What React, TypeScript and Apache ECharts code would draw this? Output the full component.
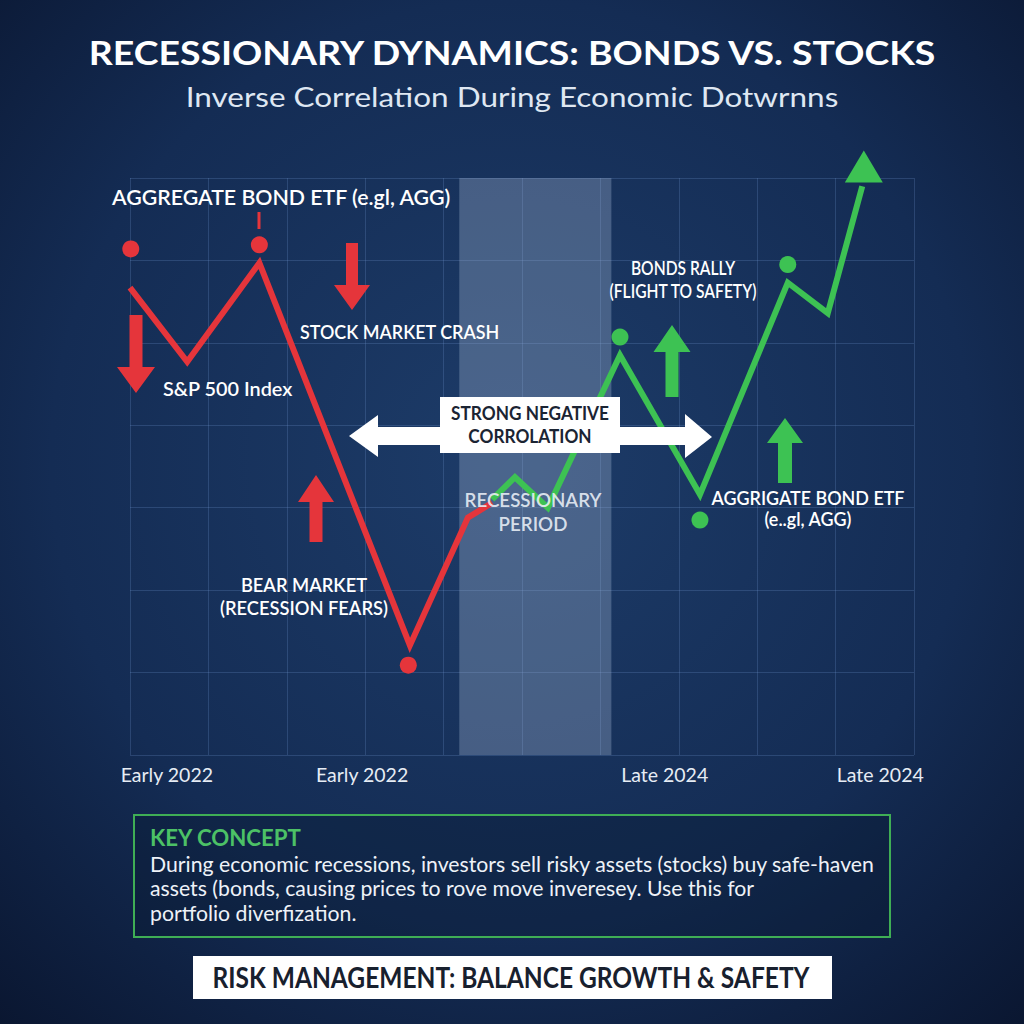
import React, { useEffect, useRef } from 'react';
import * as echarts from 'echarts';

// ---- data (x: timeline units 0..10, y: relative price level 0..7) ----
const xTickLabels = ['Early 2022', 'Early 2022', 'Late 2024', 'Late 2024'];
const xTickPositions = [0.47, 2.96, 6.82, 9.57];
const sp500Line = [[0, 5.67], [0.73, 4.77], [1.65, 5.97], [3.57, 1.33], [4.31, 2.88], [4.62, 3.06]];
const bondLine = [[4.62, 3.1], [4.91, 3.37], [5.33, 3.0], [6.25, 4.85], [7.27, 3.16], [8.39, 5.73], [8.9, 5.36], [9.34, 6.9]];
const sp500Markers = [[0.01, 6.14], [1.65, 6.19], [3.55, 1.09]];
const bondMarkers = [[6.25, 5.07], [7.27, 2.85], [8.39, 5.95]];
const bondArrowHead = [[9.36, 7.14]];
const recessionBand = [4.2, 6.14];

const RED = '#e5353b';
const GREEN = '#3dc253';
const FONT = 'Lato';

const measureCtx = typeof document !== 'undefined' ? document.createElement('canvas').getContext('2d') : null;
function fitScale(text: string, size: number, weight: string, target: number) {
  if (!measureCtx) return 1;
  measureCtx.font = `${weight} ${size}px ${FONT}`;
  const w = Math.max(...text.split('\n').map((l) => measureCtx.measureText(l).width));
  return w > 0 ? target / w : 1;
}

function txt(text: string, x: number, y: number, size: number, color: string, weight: string, align: string, targetW: number, lineHeight?: number, z = 20) {
  return {
    type: 'text',
    x,
    y,
    scaleX: fitScale(text, size, weight, targetW),
    z,
    silent: true,
    style: {
      text,
      fill: color,
      fontSize: size,
      fontFamily: FONT,
      fontWeight: weight,
      align,
      textAlign: align,
      verticalAlign: 'middle',
      textVerticalAlign: 'middle',
      lineHeight: lineHeight || size * 1.2,
    },
  };
}

function arrow(cx: number, tip: number, headBase: number, tail: number, shaftHalf: number, headHalf: number, color: string) {
  return {
    type: 'polygon',
    z: 15,
    silent: true,
    shape: {
      points: [
        [cx, tip],
        [cx + headHalf, headBase],
        [cx + shaftHalf, headBase],
        [cx + shaftHalf, tail],
        [cx - shaftHalf, tail],
        [cx - shaftHalf, headBase],
        [cx - headHalf, headBase],
      ],
    },
    style: { fill: color },
  };
}

export default function App() {
  const ref = useRef<HTMLDivElement>(null);
  useEffect(() => {
    document.body.style.margin = '0';
    const chart = echarts.init(ref.current!, null, { renderer: 'svg', width: 1024, height: 1024 });
    const gridLine = { color: 'rgba(115,155,215,0.24)', width: 1 };
    const option: any = {
      animation: false,
      backgroundColor: '#0c1a34',
      grid: { left: 130, right: 110, top: 178, bottom: 269 },
      xAxis: {
        type: 'value',
        min: 0,
        max: 10,
        interval: 1,
        axisLine: { show: false },
        axisTick: { show: false },
        splitLine: { show: true, lineStyle: gridLine },
        axisLabel: {
          customValues: xTickPositions,
          formatter: (v: number) => {
            const i = xTickPositions.findIndex((p) => Math.abs(p - v) < 1e-6);
            return i >= 0 ? xTickLabels[i] : '';
          },
          color: '#e6ecf4',
          fontSize: 19.5,
          fontFamily: FONT,
          margin: 9,
        },
      },
      yAxis: {
        type: 'value',
        min: 0,
        max: 7,
        interval: 1,
        axisLine: { show: false },
        axisTick: { show: false },
        axisLabel: { show: false },
        splitLine: { show: true, lineStyle: gridLine },
      },
      series: [
        {
          name: 'S&P 500 Index',
          type: 'line',
          data: sp500Line,
          symbol: 'none',
          lineStyle: { color: RED, width: 6, join: 'miter' },
          z: 3,
          markArea: {
            silent: true,
            itemStyle: { color: 'rgba(170,190,218,0.32)' },
            data: [[{ xAxis: recessionBand[0], yAxis: 0 }, { xAxis: recessionBand[1], yAxis: 7 }]],
          },
        },
        {
          name: 'Aggregate Bond ETF',
          type: 'line',
          data: bondLine,
          symbol: 'none',
          lineStyle: { color: GREEN, width: 6, join: 'miter' },
          z: 3,
        },
        {
          type: 'scatter',
          data: sp500Markers,
          symbolSize: 17,
          itemStyle: { color: RED, opacity: 1 },
          z: 4,
        },
        {
          type: 'scatter',
          data: bondMarkers,
          symbolSize: 17,
          itemStyle: { color: GREEN, opacity: 1 },
          z: 4,
        },
        {
          type: 'scatter',
          data: bondArrowHead,
          symbol: 'triangle',
          symbolSize: [38, 32],
          clip: false,
          itemStyle: { color: GREEN, opacity: 1 },
          z: 4,
        },
      ],
      graphic: [
        {
          type: 'rect',
          z: -10,
          silent: true,
          shape: { x: 0, y: 0, width: 1024, height: 1024 },
          style: {
            fill: {
              type: 'radial',
              x: 0.5,
              y: 0.45,
              r: 0.75,
              colorStops: [
                { offset: 0, color: '#1d3c69' },
                { offset: 0.6, color: '#142c54' },
                { offset: 1, color: '#0a1630' },
              ],
            },
          },
        },
        // title & subtitle
        txt('RECESSIONARY DYNAMICS: BONDS VS. STOCKS', 512, 52, 33, '#ffffff', 'bold', 'center', 850),
        txt('Inverse Correlation During Economic Dotwrnns', 512, 96, 27, '#dfe7f2', 'normal', 'center', 653),
        // annotations
        txt('AGGREGATE BOND ETF (e.gl, AGG)', 112, 197, 21, '#ffffff', '600', 'left', 340),
        { type: 'line', z: 15, silent: true, shape: { x1: 259, y1: 212, x2: 259, y2: 229 }, style: { stroke: RED, lineWidth: 3 } },
        txt('STOCK MARKET CRASH', 300, 331, 20, '#ffffff', '600', 'left', 200),
        txt('S&P 500 Index', 163, 388, 20, '#ffffff', '600', 'left', 130),
        txt('BEAR MARKET\n(RECESSION FEARS)', 304, 596, 19.5, '#ffffff', '600', 'center', 168, 23),
        txt('RECESSIONARY\nPERIOD', 533, 511, 20, 'rgba(235,240,247,0.9)', '600', 'center', 137, 24),
        txt('BONDS RALLY\n(FLIGHT TO SAFETY)', 683, 279, 19.5, '#ffffff', '600', 'center', 148, 23),
        txt('AGGRIGATE BOND ETF\n(e..gl, AGG)', 808, 508, 19.5, '#ffffff', '600', 'center', 193, 21),
        // arrows
        arrow(136, 393, 367, 315, 6.5, 19, RED),
        arrow(352, 310, 285, 243, 6, 18, RED),
        arrow(316, 475, 502, 542, 6.5, 18, RED),
        arrow(672, 325, 352, 397, 6.5, 18.5, GREEN),
        arrow(785, 418, 443, 483, 7, 18, GREEN),
        // double arrow + box
        {
          type: 'polygon',
          z: 18,
          silent: true,
          shape: {
            points: [
              [349, 436], [378, 415], [378, 427], [685, 427], [685, 414], [712, 437],
              [685, 458], [685, 445], [378, 445], [378, 457],
            ],
          },
          style: { fill: '#ffffff' },
        },
        { type: 'rect', z: 19, silent: true, shape: { x: 440, y: 397, width: 180, height: 56 }, style: { fill: '#ffffff' } },
        txt('STRONG NEGATIVE\nCORROLATION', 530, 424, 19.5, '#1b2433', 'bold', 'center', 158, 23, 21),
        // key concept box
        { type: 'rect', z: 5, silent: true, shape: { x: 134, y: 815, width: 756, height: 122 }, style: { fill: 'rgba(10,25,50,0.35)', stroke: '#3fae55', lineWidth: 2 } },
        txt('KEY CONCEPT', 150, 837, 23, '#4cc166', 'bold', 'left', 152),
        txt(
          'During economic recessions, investors sell risky assets (stocks) buy safe-haven\nassets (bonds, causing prices to rove move inveresey. Use this for\nportfolio diverfization.',
          150, 888, 20.5, '#eef2f8', 'normal', 'left', 725, 24.5
        ),
        // bottom banner
        { type: 'rect', z: 5, silent: true, shape: { x: 193, y: 956, width: 639, height: 43 }, style: { fill: '#ffffff' } },
        txt('RISK MANAGEMENT: BALANCE GROWTH & SAFETY', 511, 977, 28, '#18202e', 'bold', 'center', 597),
      ],
    };
    chart.setOption(option);
    return () => chart.dispose();
  }, []);
  return <div ref={ref} style={{ width: 1024, height: 1024 }} />;
}
